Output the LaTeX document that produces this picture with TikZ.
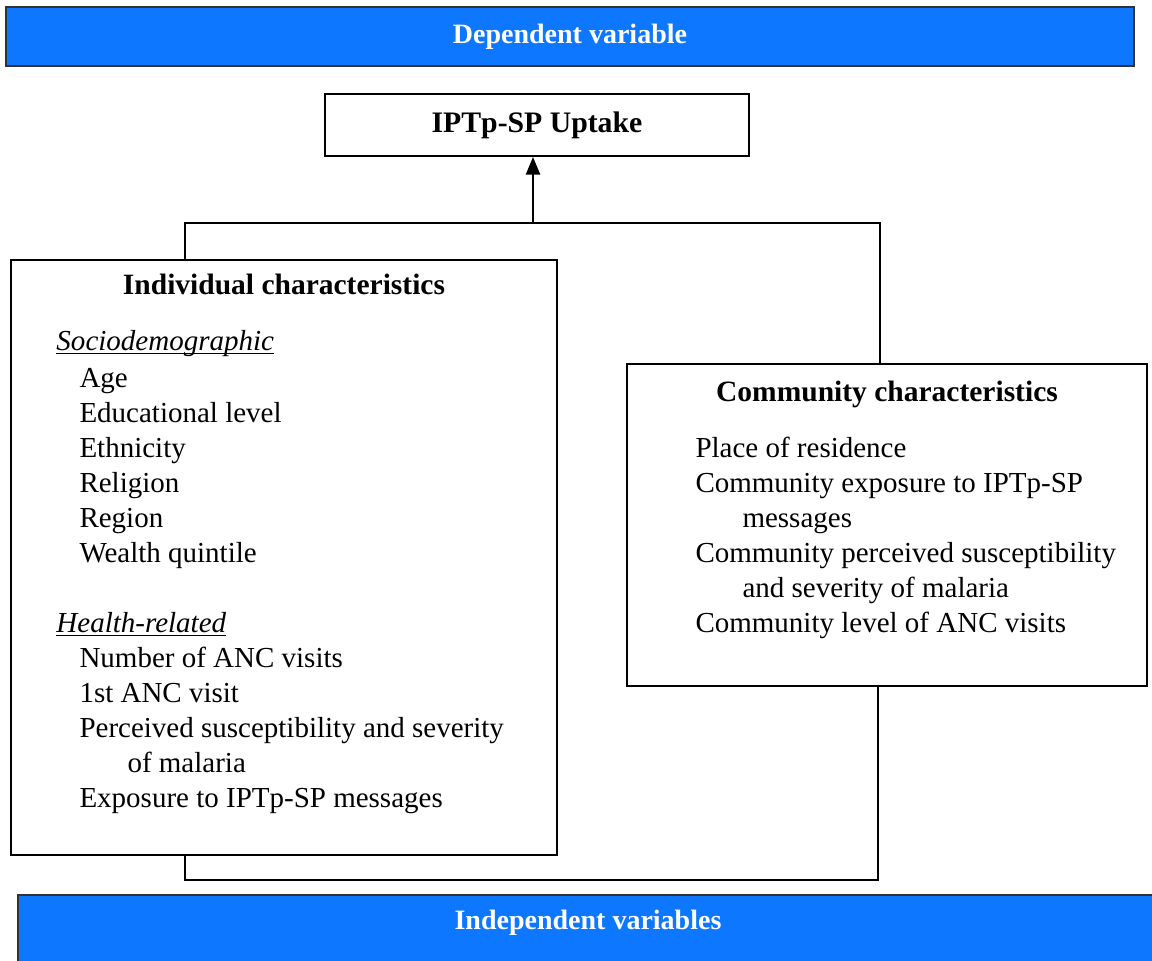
\documentclass[tikz,border=0pt]{standalone}
\usepackage{fontspec}
\setmainfont{Liberation Serif}
\usetikzlibrary{arrows.meta}
\definecolor{barblue}{RGB}{14,119,255}
\tikzset{
  bar/.style={draw=black!80, line width=0.6pt, fill=barblue, inner sep=0pt},
  bartext/.style={text=white, font=\fontsize{11.2}{13}\selectfont\bfseries},
  box/.style={draw, line width=0.8pt, inner sep=0pt},
  head/.style={anchor=base, inner sep=0pt, font=\fontsize{11.8}{14}\selectfont\bfseries},
  item/.style={anchor=base west, inner sep=0pt, font=\fontsize{11.6}{14}\selectfont},
}
\newcommand{\subhd}[1]{\underline{\smash{\textit{#1}}}}
\begin{document}
\begin{tikzpicture}[x=0.4pt, y=-0.4pt]
      \clip (0,0) rectangle (1152,960);
      \draw
        (570,36.5) node[bar, bartext, minimum width=451.2pt, minimum height=23.6pt] (dep){Dependent variable}
        (589,930) node[bar, minimum width=456.8pt, minimum height=28pt] (indep){}
        (588,929) node[bartext, anchor=base] (indeplbl){Independent variables}
        (537,125) node[box, font=\fontsize{11.9}{14}\selectfont\bfseries,
          minimum width=169.6pt, minimum height=24.8pt] (iptp){IPTp-SP Uptake}
        (284,557.5) node[box, minimum width=218.4pt, minimum height=238pt] (ind){}
        (887,525) node[box, minimum width=208pt, minimum height=128.8pt] (comm){};
      % individual characteristics
      \draw
        (284,294) node[head] (indhd){Individual characteristics}
        (56,350) node[item] (soc){\subhd{Sociodemographic}}
        (79,387) node[item] (age){Age}
        (79,422) node[item] (edu){Educational level}
        (79,457) node[item] (eth){Ethnicity}
        (79,492) node[item] (rel){Religion}
        (79,527) node[item] (reg){Region}
        (79,562) node[item] (wea){Wealth quintile}
        (56,632) node[item] (hlt){\subhd{Health-related}}
        (79,667) node[item] (anc){Number of ANC visits}
        (79,702) node[item] (fst){1st ANC visit}
        (79,737) node[item] (per){Perceived susceptibility and severity}
        (127,772) node[item] (per2){of malaria}
        (79,807) node[item] (exp){Exposure to IPTp-SP messages};
      % community characteristics
      \draw
        (887,401) node[head] (commhd){Community characteristics}
        (695,457) node[item] (plc){Place of residence}
        (695,492) node[item] (cexp){Community exposure to IPTp-SP}
        (742,527) node[item] (cexp2){messages}
        (695,562) node[item] (cper){Community perceived susceptibility}
        (742,597) node[item] (cper2){and severity of malaria}
        (695,632) node[item] (canc){Community level of ANC visits};
      \coordinate (tl) at (185,223);
      \coordinate (tm) at (533,223);
      \coordinate (tr) at (880,223);
      \coordinate (bl) at (185,880);
      \coordinate (br) at (878,880);
      \begin{scope}[line width=0.8pt]
        \draw (ind.north -| tl) -- (tl) -- (tr) -- (comm.north -| tr);
        \draw[-{Triangle[width=5.6pt,length=7pt]}] (tm) -- (iptp.south -| tm);
        \draw (ind.south -| bl) -- (bl) -- (br) -- (comm.south -| br);
      \end{scope}
    \end{tikzpicture}
\end{document}
